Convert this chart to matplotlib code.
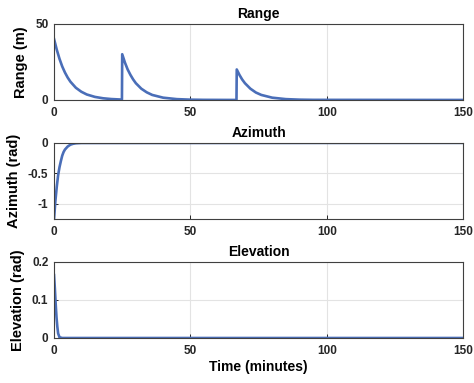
import numpy as np
import matplotlib
matplotlib.use("Agg")
import matplotlib.pyplot as plt

plt.rcParams['font.family'] = ['Liberation Sans', 'DejaVu Sans']
plt.rcParams['font.weight'] = 'bold'

# range to target (m), three approach phases
range_t = [0, 1, 2, 3, 4, 5, 6, 8, 10, 12, 15, 18, 21, 24.9,
           25, 26, 27, 28, 29, 30, 32, 34, 36, 40, 45, 50, 55, 66.9,
           67, 68, 69, 70, 72, 74, 76, 80, 85, 90, 95, 150]
range_m = [40, 33, 27, 22, 18, 14.7, 12, 8, 5.4, 3.6, 2, 1.1, 0.6, 0.25,
           30, 24.5, 20, 16.5, 13.5, 11, 7.4, 5, 3.3, 1.5, 0.55, 0.2, 0.07, 0,
           20, 16.4, 13.4, 11, 7.4, 4.9, 3.3, 1.5, 0.55, 0.2, 0.07, 0]

az_t = [0, 0.5, 1, 1.5, 2, 2.5, 3, 3.5, 4, 5, 6, 7, 8, 10, 150]
az_rad = [-1.25, -0.95, -0.72, -0.53, -0.40, -0.30, -0.21, -0.15, -0.11,
          -0.06, -0.03, -0.015, -0.007, -0.002, 0]

el_t = [0, 0.3, 0.6, 0.9, 1.2, 1.5, 2, 3, 150]
el_rad = [0.165, 0.13, 0.09, 0.055, 0.03, 0.012, 0.002, 0, 0]

xticks = [0, 50, 100, 150]
panels = [
    ("Range", "Range (m)", range_t, range_m, (0, 50), [0, 50], ['0', '50']),
    ("Azimuth", "Azimuth (rad)", az_t, az_rad, (-1.25, 0), [-1, -0.5, 0], ['-1', '-0.5', '0']),
    ("Elevation", "Elevation (rad)", el_t, el_rad, (0, 0.2), [0, 0.1, 0.2], ['0', '0.1', '0.2']),
]
bottoms = [0.739, 0.428, 0.1175]

fig = plt.figure(figsize=(4.74, 3.83), dpi=100)
line_col = '#4A6EB8'

for (title, ylab, t, y, ylim, yt, ytl), b in zip(panels, bottoms):
    ax = fig.add_axes([0.114, b, 0.863, 0.199])
    ax.plot(t, y, color=line_col, lw=1.9)
    ax.set_xlim(0, 150)
    ax.set_ylim(*ylim)
    ax.set_xticks(xticks)
    ax.set_xticklabels([str(v) for v in xticks])
    ax.set_yticks(yt)
    ax.set_yticklabels(ytl)
    ax.grid(True, color='#e3e3e3', lw=0.8)
    ax.set_axisbelow(True)
    ax.tick_params(direction='in', length=3, width=0.7, labelsize=8.5,
                   colors='#262626')
    ax.tick_params(axis='x', pad=5)
    ax.tick_params(axis='y', pad=4)
    for s in ax.spines.values():
        s.set_color('#404040')
        s.set_linewidth(0.8)
    ax.set_title(title, fontsize=10, fontweight='bold', pad=4)
    ax.set_ylabel(ylab, fontsize=10.5, fontweight='bold', labelpad=5)
    for lbl in ax.get_xticklabels() + ax.get_yticklabels():
        lbl.set_fontweight('bold')

ax.set_xlabel("Time (minutes)", fontsize=10, fontweight='bold', labelpad=2)

fig.savefig("out.png", dpi=100)
